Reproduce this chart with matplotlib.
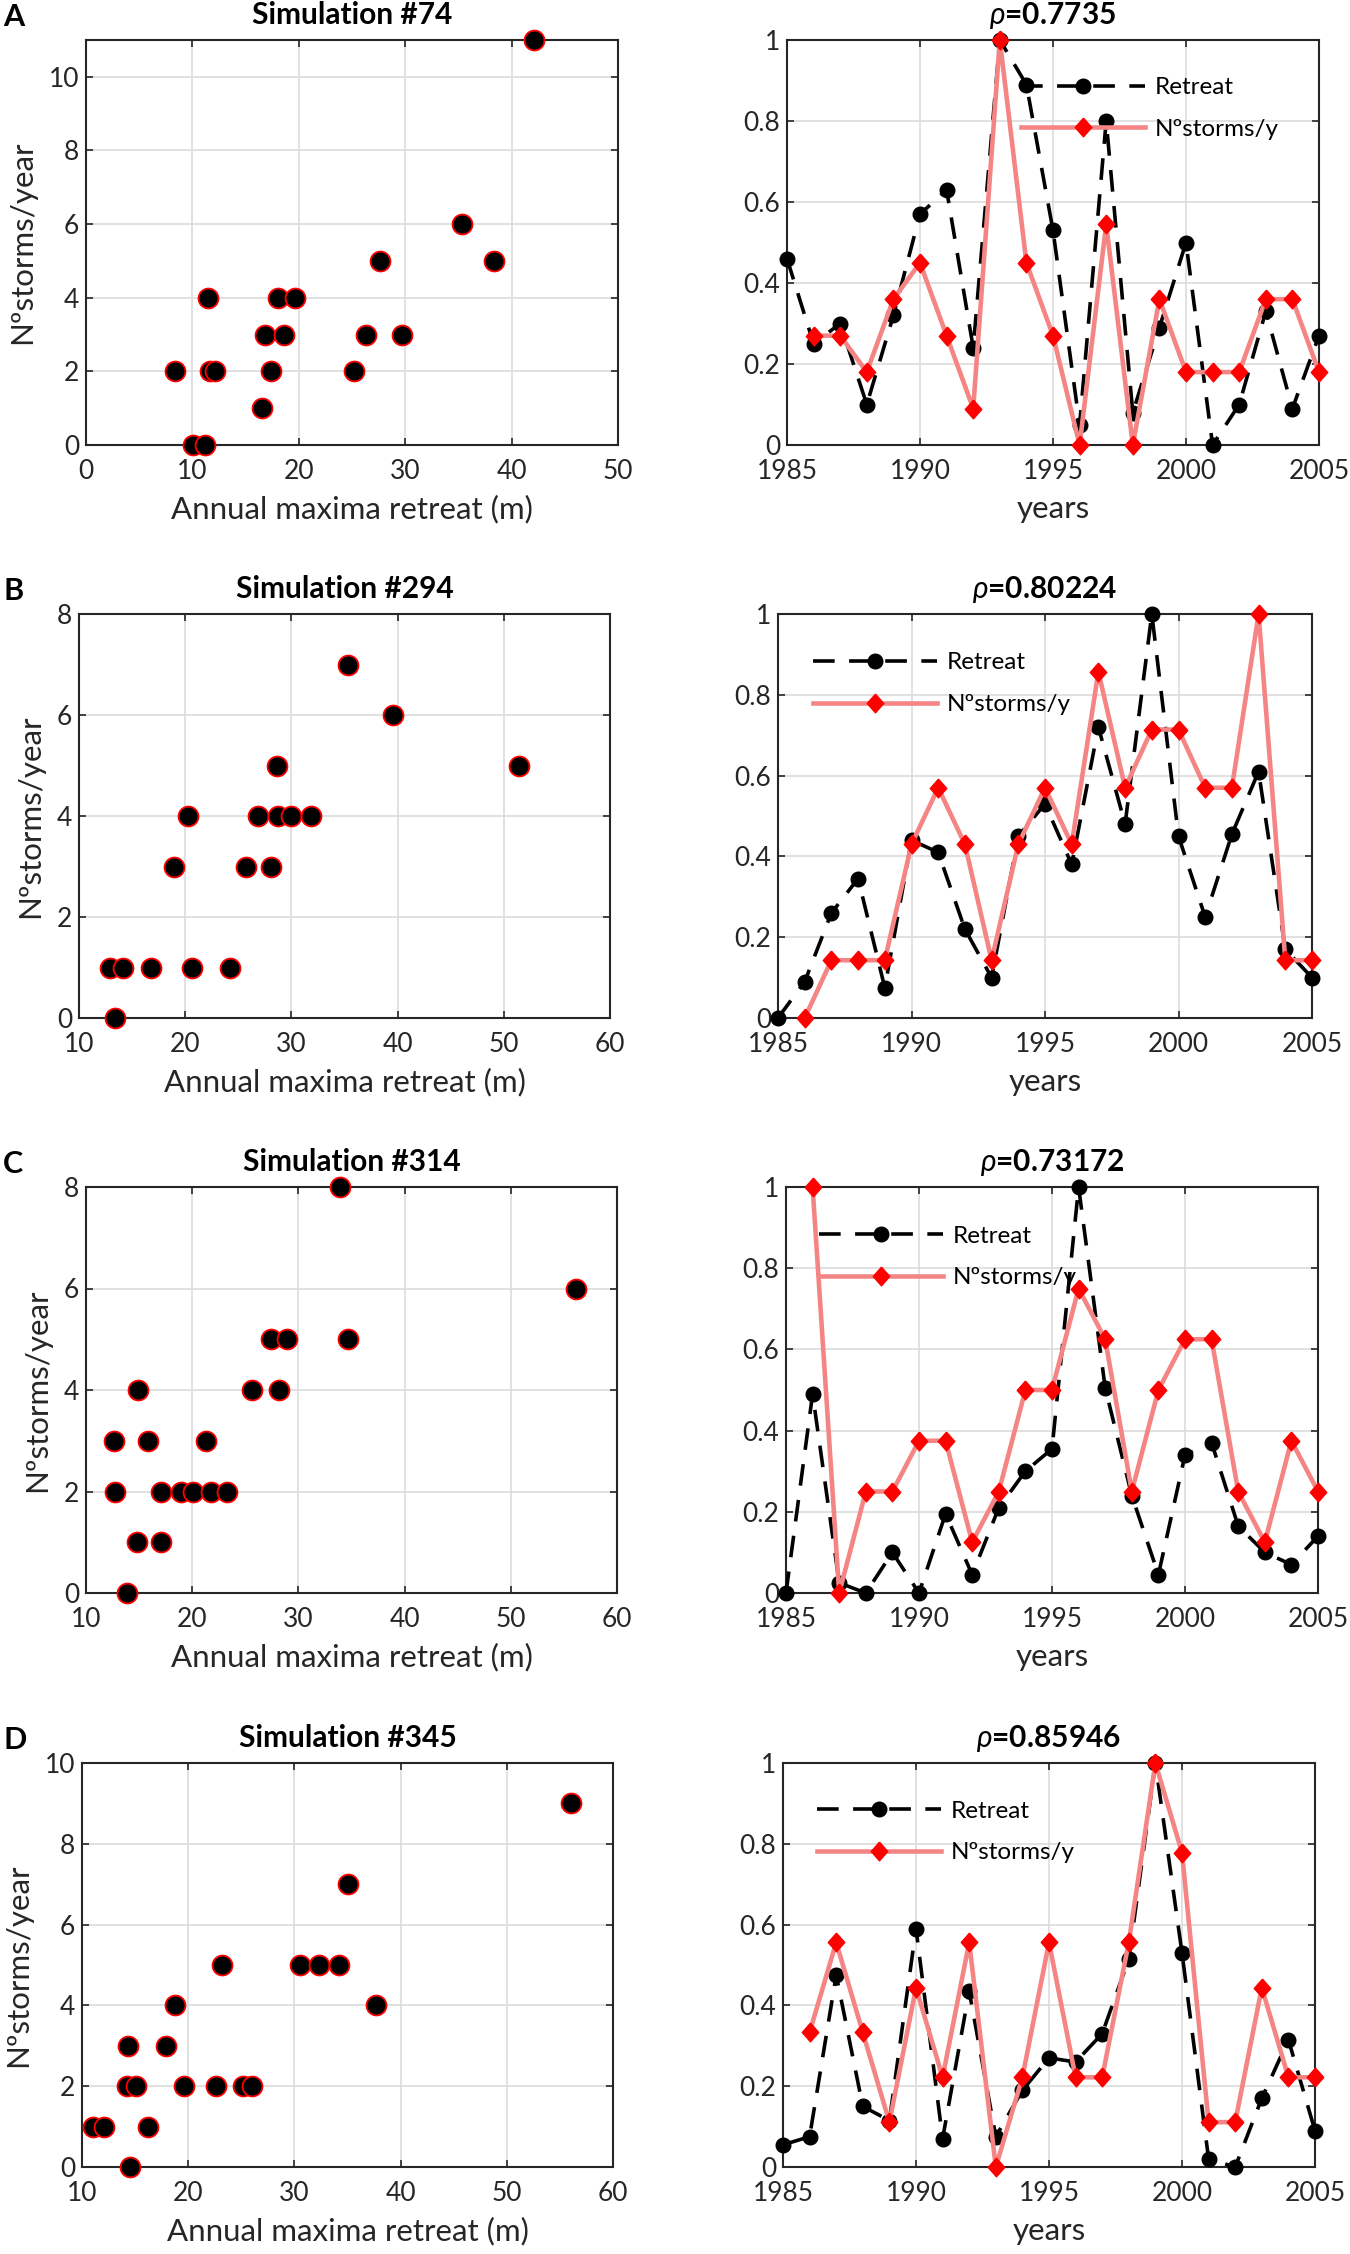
import matplotlib
matplotlib.use("Agg")
import matplotlib.pyplot as plt
import numpy as np

plt.rcParams['font.family'] = ['Lato', 'DejaVu Sans']
plt.rcParams['mathtext.fontset'] = 'custom'
plt.rcParams['mathtext.it'] = 'Lato:italic'
plt.rcParams['mathtext.rm'] = 'Lato'

# ---------------- data ----------------
years = list(range(1985, 2006))
storm_years = list(range(1986, 2006))

sims = ["Simulation #74", "Simulation #294", "Simulation #314", "Simulation #345"]
rhos = ["0.7735", "0.80224", "0.73172", "0.85946"]
panel_letters = ["A", "B", "C", "D"]

# scatter: annual maxima retreat (m) vs number of storms per year
scat_x_A = [8.4, 10.1, 11.2, 11.5, 11.7, 12.1, 16.5, 16.8, 17.4, 18.0, 18.6, 19.6, 25.2, 26.3, 27.6, 29.7, 35.3, 38.3, 42.1]
scat_y_A = [2, 0, 0, 4, 2, 2, 1, 3, 2, 4, 3, 4, 2, 3, 5, 3, 6, 5, 11]
scat_x_B = [12.9, 13.4, 14.1, 16.8, 20.6, 24.2, 18.9, 20.3, 25.7, 28.1, 26.9, 28.7, 30.0, 31.8, 28.6, 35.3, 39.6, 51.4]
scat_y_B = [1, 0, 1, 1, 1, 1, 3, 4, 3, 3, 4, 4, 4, 4, 5, 7, 6, 5]
scat_x_C = [12.6, 12.75, 13.9, 14.8, 14.9, 15.8, 17.1, 17.1, 18.9, 20.1, 21.3, 21.8, 23.3, 25.6, 28.2, 27.4, 28.9, 34.7, 33.9, 56.1]
scat_y_C = [3, 2, 0, 1, 4, 3, 2, 1, 2, 2, 3, 2, 2, 4, 4, 5, 5, 5, 8, 6]
scat_x_D = [11.0, 12.1, 14.5, 14.3, 14.2, 15.1, 16.2, 17.9, 18.8, 19.6, 22.6, 23.2, 25.2, 26.0, 30.5, 32.3, 34.2, 35.0, 37.7, 56.0]
scat_y_D = [1, 1, 0, 3, 2, 2, 1, 3, 4, 2, 2, 5, 2, 2, 5, 5, 5, 7, 4, 9]

# normalized time series
retreat_A = [0.46, 0.25, 0.30, 0.10, 0.32, 0.57, 0.63, 0.24, 1.0, 0.89, 0.53, 0.05, 0.80, 0.08, 0.29, 0.50, 0.0, 0.10, 0.33, 0.09, 0.27]
storms_A = [0.27, 0.27, 0.18, 0.36, 0.45, 0.27, 0.09, 1.0, 0.45, 0.27, 0.0, 0.545, 0.0, 0.36, 0.18, 0.18, 0.18, 0.36, 0.36, 0.18]
retreat_B = [0.0, 0.09, 0.26, 0.345, 0.075, 0.44, 0.41, 0.22, 0.10, 0.45, 0.53, 0.38, 0.72, 0.48, 1.0, 0.45, 0.25, 0.455, 0.61, 0.17, 0.10]
storms_B = [0.0, 0.143, 0.143, 0.143, 0.43, 0.57, 0.43, 0.143, 0.43, 0.57, 0.43, 0.857, 0.57, 0.714, 0.714, 0.57, 0.57, 1.0, 0.143, 0.143]
retreat_C = [0.0, 0.49, 0.025, 0.0, 0.10, 0.0, 0.195, 0.045, 0.21, 0.30, 0.355, 1.0, 0.505, 0.24, 0.045, 0.34, 0.37, 0.165, 0.10, 0.07, 0.14]
storms_C = [1.0, 0.0, 0.25, 0.25, 0.375, 0.375, 0.125, 0.25, 0.5, 0.5, 0.75, 0.625, 0.25, 0.5, 0.625, 0.625, 0.25, 0.125, 0.375, 0.25]
retreat_D = [0.055, 0.075, 0.475, 0.15, 0.115, 0.59, 0.07, 0.435, 0.075, 0.19, 0.27, 0.26, 0.33, 0.515, 1.0, 0.53, 0.02, 0.0, 0.17, 0.315, 0.09]
storms_D = [0.333, 0.556, 0.333, 0.111, 0.444, 0.222, 0.556, 0.0, 0.222, 0.556, 0.222, 0.222, 0.556, 1.0, 0.778, 0.111, 0.111, 0.444, 0.222, 0.222]

scat_x = [scat_x_A, scat_x_B, scat_x_C, scat_x_D]
scat_y = [scat_y_A, scat_y_B, scat_y_C, scat_y_D]
retreats = [retreat_A, retreat_B, retreat_C, retreat_D]
stormss = [storms_A, storms_B, storms_C, storms_D]

xlims = [(0, 50), (10, 60), (10, 60), (10, 60)]
ylims = [(0, 11), (0, 8), (0, 8), (0, 10)]
yticks = [[0, 2, 4, 6, 8, 10], [0, 2, 4, 6, 8], [0, 2, 4, 6, 8], [0, 2, 4, 6, 8, 10]]

# ---------------- layout (pixels) ----------------
W, H = 1350, 2254
fig = plt.figure(figsize=(W / 100, H / 100), dpi=100)

rows_top = [40, 614, 1187, 1763]
rows_bot = [445, 1018, 1593, 2167]
left_x = [(86, 618), (79, 610), (86, 617), (82, 613)]
right_x = [(787, 1319), (778, 1312), (786, 1318), (783, 1315)]
leg_anchor = [(0.44, 0.908), (0.066, 0.905), (0.062, 0.905), (0.064, 0.907)]

TICK_FS = 19
LEG_FS = 17.5
LAB_FS = 22.5
TITLE_FS = 21.5
GRID_C = '#dcdcdc'
SPINE_C = '#262626'
RED_LINE = '#f58585'

diamond = [(0, 1), (0.88, 0), (0, -1), (-0.88, 0), (0, 1)]


def style_axes(ax):
    ax.grid(True, color=GRID_C, lw=1.2)
    ax.set_axisbelow(True)
    for s in ax.spines.values():
        s.set_color(SPINE_C)
        s.set_linewidth(1.5)
    ax.tick_params(direction='in', length=5, width=1.2, top=True, right=True,
                   labelsize=TICK_FS, colors='#262626')
    ax.tick_params(axis='x', pad=10)
    ax.tick_params(axis='y', pad=5)


def frac(x0, x1, y0, y1):
    return [x0 / W, 1 - y1 / H, (x1 - x0) / W, (y1 - y0) / H]


for i in range(4):
    # ---------- scatter ----------
    ax = fig.add_axes(frac(left_x[i][0], left_x[i][1], rows_top[i], rows_bot[i]))
    style_axes(ax)
    ax.scatter(scat_x[i], scat_y[i], s=205, c='black', edgecolors='red',
               linewidths=1.3, zorder=3, clip_on=False)
    ax.set_xlim(*xlims[i])
    ax.set_ylim(*ylims[i])
    ax.set_yticks(yticks[i])
    ax.set_xticks(np.arange(xlims[i][0], xlims[i][1] + 1, 10))
    ax.set_xlabel("Annual maxima retreat (m)", fontsize=LAB_FS, labelpad=8, color='#262626')
    ax.set_ylabel("Nºstorms/year", fontsize=LAB_FS, labelpad=9, color='#262626')
    ax.set_title(sims[i], fontsize=TITLE_FS, fontweight='bold', pad=11.5)
    fig.text(3 / W, 1 - (rows_top[i] - 14) / H, panel_letters[i], fontsize=22,
             fontweight='bold', ha='left', va='baseline')

    # ---------- time series ----------
    ax2 = fig.add_axes(frac(right_x[i][0], right_x[i][1], rows_top[i], rows_bot[i]))
    style_axes(ax2)
    l1, = ax2.plot(years, retreats[i], color='black', lw=2.6, ls=(0, (6, 4)),
                   marker='o', ms=10.5, mfc='black', mec='black', zorder=3, clip_on=False,
                   label='Retreat')
    l2, = ax2.plot(storm_years, stormss[i], color=RED_LINE, lw=3.3, ls='-',
                   marker=diamond, ms=13.5, mfc='red', mec='red', zorder=4, clip_on=False,
                   label='Nºstorms/y')
    ax2.set_xlim(1985, 2005)
    ax2.set_ylim(0, 1)
    ax2.set_xticks([1985, 1990, 1995, 2000, 2005])
    ax2.set_yticks([0, 0.2, 0.4, 0.6, 0.8, 1])
    ax2.set_yticklabels(["0", "0.2", "0.4", "0.6", "0.8", "1"])
    ax2.set_xlabel("years", fontsize=LAB_FS, labelpad=8, color='#262626')
    ax2.set_title(r"$\rho$=" + rhos[i], fontsize=TITLE_FS, fontweight='bold', pad=11.5)
    ax2.legend(handles=[l1, l2], loc='upper left', bbox_to_anchor=leg_anchor[i],
               frameon=False, fontsize=LEG_FS, handlelength=5.1, handletextpad=0.4,
               labelspacing=0.85, borderpad=0, borderaxespad=0, numpoints=1)

fig.savefig("out.png", dpi=100, facecolor='white')
